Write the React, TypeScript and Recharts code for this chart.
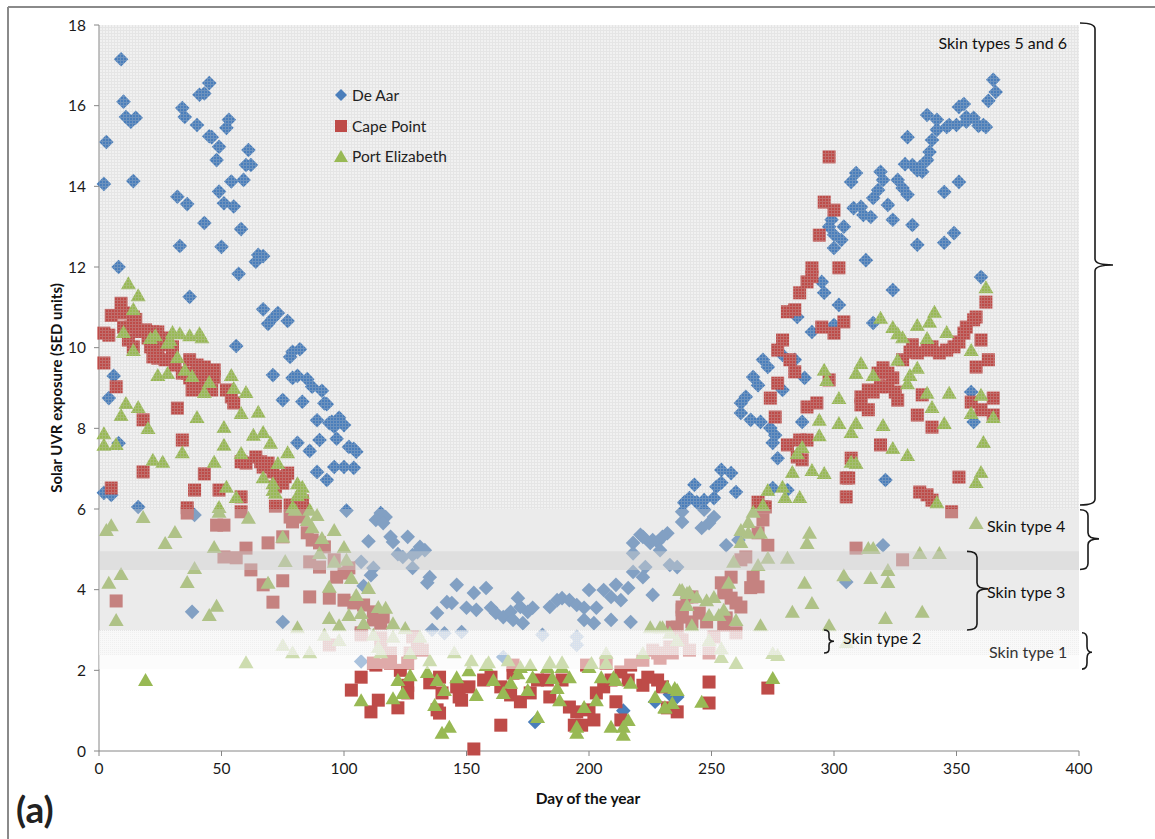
import React from 'react';
import {
    ScatterChart, Scatter, XAxis, YAxis, ReferenceArea, Legend
} from 'recharts';

// [day of year, SED]
const DE_AAR: [number, number][] = [
    [2, 14.06], [3, 15.1], [9, 17.15], [10, 16.1], [11, 15.72], [13, 15.6], [15, 15.7], [14, 14.13], [8, 12.0],
    [32, 13.74], [34, 15.94], [35, 15.72], [36, 13.56], [33, 12.52], [37, 11.26], [40, 15.52], [41, 16.27], [43, 16.3],
    [45, 16.56], [45, 15.24], [46, 15.22], [49, 14.98], [48, 14.65], [43, 13.09], [49, 13.87], [51, 13.58], [55, 13.5],
    [50, 12.5], [53, 15.65], [52, 15.45], [54, 14.12], [59, 14.16], [60, 14.53], [62, 14.53], [61, 14.9], [58, 12.94],
    [57, 11.83], [64, 12.13], [65, 12.3], [67, 12.27],
    [2, 6.4], [6, 9.3], [4, 8.75], [8, 7.63], [5, 6.35], [16, 6.05], [56, 10.04], [39, 5.85], [38, 3.45], [75, 3.2],
    [67, 10.95], [73, 10.86], [71, 10.73], [69, 10.59], [77, 10.66], [78, 9.77], [82, 9.96], [79, 9.9], [71, 9.32],
    [79, 9.25], [81, 9.3], [85, 9.22], [87, 9.03], [91, 8.93], [75, 8.7], [83, 8.66], [93, 8.6], [89, 8.2], [94, 8.13],
    [96, 8.04], [98, 8.26], [100, 8.08], [81, 7.64], [86, 7.44], [90, 7.71], [97, 7.74], [102, 7.54], [104, 7.49],
    [105, 7.42], [96, 7.04], [100, 7.04], [104, 7.02], [89, 6.92], [93, 6.72], [92, 8.62], [95, 8.16],
    [101, 5.96], [115, 5.9], [117, 5.8], [113, 5.73], [116, 5.65], [110, 5.2], [119, 5.31], [126, 5.31], [120, 5.18],
    [131, 5.06], [122, 4.88], [124, 4.81], [128, 4.86], [130, 4.93], [133, 4.98], [107, 4.69], [112, 4.54], [111, 4.36],
    [108, 4.09], [128, 4.54], [135, 4.31], [134, 4.17], [146, 4.12], [153, 3.92], [158, 4.04], [142, 3.69], [144, 3.67],
    [138, 3.42], [150, 3.55], [154, 3.5], [160, 3.55], [162, 3.42], [165, 3.32], [168, 3.45], [171, 3.79], [172, 3.57],
    [175, 3.45], [169, 3.25], [173, 3.17], [177, 3.55], [184, 3.57], [187, 3.74], [189, 3.79], [192, 3.74], [195, 3.62],
    [198, 3.55], [200, 3.99], [203, 3.55], [206, 3.99], [209, 3.82], [211, 4.12], [213, 3.74], [216, 4.04], [198, 3.25],
    [202, 3.17], [209, 3.25], [217, 3.2], [226, 3.87], [136, 3.0], [141, 2.92], [148, 2.95], [181, 2.88], [195, 2.83],
    [195, 2.63], [107, 2.22], [165, 2.33], [178, 0.72], [214, 1.0], [227, 1.22], [236, 1.34], [233, 1.4],
    [218, 5.16], [221, 5.36], [225, 5.16], [228, 5.18], [232, 5.4], [229, 4.98], [218, 4.9], [223, 4.56], [218, 4.44],
    [222, 4.31], [233, 4.61], [236, 4.56], [238, 5.68], [239, 6.15],
    [254, 6.97], [258, 6.89], [260, 6.42], [243, 6.6], [254, 6.65], [252, 6.55], [241, 6.27], [239, 6.17], [244, 6.17],
    [247, 6.22], [251, 6.27], [247, 5.98], [238, 5.93], [251, 5.8], [249, 5.65], [246, 5.53], [230, 5.31], [226, 5.23],
    [256, 5.1], [261, 5.23], [222, 5.31],
    [277, 7.26], [275, 6.52], [281, 6.47], [275, 7.64], [321, 6.72], [320, 5.1], [305, 4.19],
    [330, 15.22], [340, 15.15], [342, 15.4], [346, 15.47], [350, 15.52], [354, 15.6], [361, 15.52], [339, 14.85],
    [332, 14.53], [335, 14.48], [338, 14.65], [336, 14.36], [309, 14.33], [307, 14.11], [319, 14.36], [320, 14.16],
    [326, 14.16], [328, 13.96], [330, 13.79], [318, 13.91], [316, 13.71], [345, 13.86], [351, 14.11], [308, 13.46],
    [311, 13.49], [312, 13.29], [315, 13.24], [322, 13.54], [324, 13.17], [299, 13.17], [298, 13.0], [304, 13.0],
    [300, 12.8], [300, 12.47], [303, 12.67], [332, 13.04], [334, 12.55], [349, 12.84], [345, 12.6], [313, 12.17],
    [360, 11.75], [324, 11.43], [295, 11.63], [296, 11.36], [302, 11.06], [285, 10.76], [316, 10.61], [291, 10.39],
    [300, 10.56], [271, 9.7], [273, 9.52], [279, 9.82], [284, 9.7], [288, 9.25], [267, 9.27], [269, 9.07], [264, 8.78],
    [262, 8.63], [262, 8.38], [266, 8.21], [270, 8.16], [274, 8.01], [276, 7.83], [279, 8.95], [287, 8.16], [356, 8.9],
    [357, 8.16],
    [365, 16.64], [366, 16.34], [363, 16.12], [351, 15.97], [353, 16.04], [338, 15.77], [342, 15.65], [347, 15.52],
    [354, 15.72], [357, 15.7], [359, 15.5], [362, 15.47], [329, 14.55], [334, 14.4],
];

const CAPE_POINT: [number, number][] = [
    [9, 11.1], [5, 10.8], [10, 10.86], [14, 10.76], [15, 10.7], [2, 10.36], [4, 10.31], [10, 10.51], [13, 10.51],
    [12, 10.19], [14, 10.02], [16, 10.4], [19, 10.44], [20, 10.24], [22, 10.39], [24, 10.39], [26, 10.24], [21, 10.02],
    [24, 9.94], [28, 10.07], [30, 10.02], [22, 9.77], [24, 9.74], [27, 9.7], [30, 9.89], [2, 9.62], [31, 9.57],
    [34, 9.37], [37, 9.7], [40, 9.57], [43, 9.52], [47, 9.45], [36, 9.37], [42, 9.32], [47, 9.27], [37, 9.25],
    [40, 9.12], [38, 8.95], [43, 9.0], [46, 8.95], [7, 9.03], [52, 8.95], [54, 8.78], [55, 8.63], [18, 8.21],
    [32, 8.5], [34, 7.71], [18, 6.92], [5, 6.52], [43, 6.87], [58, 7.17], [60, 7.14], [64, 7.29], [66, 7.17],
    [69, 7.14], [67, 7.04], [71, 6.92], [77, 6.89], [75, 6.64], [73, 6.75], [72, 6.55], [76, 6.8], [39, 6.47],
    [49, 6.47], [58, 6.3], [36, 6.03], [72, 6.07], [83, 6.05],
    [36, 5.9], [48, 5.6], [51, 5.6], [58, 5.93], [69, 5.16], [60, 5.03], [51, 4.81], [56, 4.79], [62, 4.49],
    [7, 3.72], [67, 4.12], [75, 4.22], [71, 3.69], [86, 3.82], [78, 6.1], [82, 6.1], [75, 5.31], [78, 5.8],
    [79, 5.68], [82, 5.8], [85, 5.41], [87, 5.23], [90, 5.16], [92, 5.06], [86, 4.69], [90, 4.56], [96, 4.74],
    [97, 4.31], [100, 4.41], [102, 4.54], [94, 3.79], [100, 3.74], [104, 3.67], [108, 3.62], [112, 3.45], [116, 3.32],
    [107, 2.93], [94, 2.63], [115, 2.68], [113, 2.13], [118, 2.2], [107, 1.83], [103, 1.51], [114, 1.26], [111, 0.97],
    [83, 6.2], [112, 3.25], [115, 3.17], [107, 2.88], [115, 2.8], [128, 2.83], [130, 2.68], [132, 2.5], [127, 2.43],
    [119, 2.43], [112, 2.18], [119, 2.18], [126, 2.18], [123, 2.0], [122, 1.07], [126, 1.63], [126, 1.44],
    [138, 1.02], [139, 0.94], [148, 1.26], [147, 1.34], [140, 1.44], [135, 1.69], [139, 1.83], [146, 1.59],
    [151, 1.59], [164, 0.64], [153, 0.05], [157, 1.76], [160, 1.83], [164, 1.59], [169, 1.93], [168, 1.39],
    [172, 1.22], [176, 1.44], [179, 1.76], [183, 1.76], [184, 1.34], [189, 1.76], [192, 1.09], [195, 0.97],
    [194, 0.64], [197, 0.64], [200, 1.02], [202, 0.77], [203, 1.44], [206, 1.59], [209, 1.76], [211, 1.22],
    [213, 0.77], [216, 1.76], [222, 1.63], [228, 1.76], [230, 1.59], [236, 0.97], [224, 1.83], [213, 1.96],
    [217, 2.13], [222, 2.25], [228, 2.43], [233, 2.58], [237, 2.75], [236, 3.07], [238, 3.32], [238, 3.57],
    [240, 3.82], [199, 2.13], [207, 2.18], [169, 2.13],
    [232, 1.07], [249, 1.71], [249, 1.19], [273, 1.56], [238, 3.5], [242, 3.2], [245, 3.42], [248, 3.2], [254, 4.17],
    [255, 3.92], [258, 4.31], [256, 4.07], [260, 3.67], [262, 3.57], [258, 3.79], [267, 4.31], [269, 4.07],
    [266, 4.05], [256, 3.3], [255, 3.12], [242, 3.82], [234, 3.07], [264, 4.81], [262, 4.74], [269, 5.41], [271, 5.73],
    [273, 5.1], [272, 6.05], [249, 2.43], [241, 2.5], [229, 2.3], [251, 2.83], [260, 2.93], [309, 5.03], [328, 4.74],
    [305, 6.77], [305, 6.3], [307, 7.26], [285, 7.29], [287, 7.22], [281, 7.59], [319, 7.59], [351, 6.79], [335, 6.42],
    [338, 6.35], [340, 6.22], [348, 5.93], [238, 2.75], [226, 2.5], [234, 2.43], [269, 6.17],
    [298, 14.73], [296, 13.61], [300, 13.41], [294, 12.79], [291, 11.98], [291, 11.76], [289, 11.63], [302, 11.98],
    [286, 11.36], [281, 10.89], [284, 10.94], [295, 10.51], [300, 10.36], [304, 10.64], [279, 10.19], [277, 9.94],
    [282, 9.7], [284, 9.4], [277, 9.12], [274, 8.75], [276, 8.28], [289, 8.53], [293, 8.63], [298, 9.2], [286, 7.71],
    [289, 7.71], [306, 6.77], [271, 6.05],
    [311, 8.78], [314, 8.95], [316, 8.9], [319, 9.03], [314, 8.46], [311, 8.58], [322, 9.03], [318, 9.37], [320, 9.5],
    [322, 9.37], [324, 9.25], [325, 8.9], [326, 8.7], [334, 8.33], [340, 8.03], [336, 8.83], [328, 9.7], [331, 9.89],
    [334, 9.87], [338, 9.94], [340, 10.02], [343, 9.87], [346, 9.94], [349, 10.02], [351, 10.14], [353, 10.36],
    [354, 10.51], [357, 10.69], [358, 10.76], [360, 10.19], [362, 11.13], [363, 9.7], [358, 9.52], [365, 8.75],
    [360, 8.46], [365, 8.33], [356, 8.65], [332, 10.07],
];

const PORT_ELIZABETH: [number, number][] = [
    [12, 11.6], [16, 11.3], [14, 10.96], [10, 10.39], [14, 9.94], [21, 10.24], [23, 10.31], [30, 10.39], [33, 10.36],
    [37, 10.31], [41, 10.36], [42, 10.26], [29, 10.19], [28, 10.12], [32, 9.77], [24, 9.32], [28, 9.37], [35, 9.45],
    [38, 9.3], [54, 9.32], [45, 9.15], [43, 8.9], [55, 9.0], [60, 8.9], [11, 8.63], [16, 8.53], [9, 8.33], [20, 8.01],
    [58, 8.38], [65, 8.41], [40, 8.28], [51, 8.03], [2, 7.88], [2, 7.59], [7, 7.61], [63, 7.84], [67, 7.91], [70, 7.64],
    [77, 7.41], [22, 7.22], [26, 7.17], [51, 7.59], [47, 7.17], [34, 7.41], [58, 7.39], [73, 7.14], [67, 6.79],
    [71, 6.64], [81, 6.64], [83, 6.55], [81, 6.35], [52, 6.55], [56, 6.3], [72, 6.4], [49, 6.05], [79, 6.05],
    [71, 6.47], [83, 6.4], [18, 5.8], [5, 5.6], [3, 5.48], [31, 5.43], [27, 5.16], [49, 5.93], [61, 5.78], [80, 5.98],
    [47, 5.06], [39, 4.54], [36, 4.19], [9, 4.39], [4, 4.17], [7, 3.25], [45, 3.37], [48, 3.6], [69, 4.17], [76, 4.71],
    [75, 5.31], [81, 3.07], [86, 5.98], [89, 5.85], [85, 5.73], [87, 5.55], [91, 5.28], [90, 4.91], [96, 5.48],
    [100, 5.06], [96, 4.69], [101, 4.74], [103, 4.29], [94, 4.07], [105, 3.87], [110, 4.04], [114, 3.57], [117, 3.55],
    [94, 3.3], [98, 3.12], [102, 3.37], [107, 3.42], [108, 3.17], [92, 2.88], [98, 2.75], [75, 2.63], [79, 2.45],
    [86, 2.45], [60, 2.2], [112, 2.88], [114, 2.58], [115, 2.45], [19, 1.76], [107, 1.26],
    [120, 3.17], [120, 2.83], [125, 3.05], [131, 2.83], [135, 2.25], [127, 2.43], [145, 2.45], [152, 2.25],
    [158, 2.13], [151, 2.0], [146, 1.83], [141, 1.51], [138, 1.76], [134, 1.96], [127, 1.88], [122, 1.76], [124, 1.44],
    [120, 1.31], [137, 1.14], [140, 0.45], [143, 0.6], [154, 1.39], [161, 1.76], [165, 1.44], [168, 1.69], [171, 1.93],
    [172, 2.08], [175, 1.51], [177, 1.83], [179, 0.84], [183, 2.08], [185, 1.81], [187, 1.56], [188, 1.26], [189, 2.08],
    [192, 1.83], [195, 0.45], [195, 0.6], [198, 1.09], [200, 2.08], [203, 1.26], [205, 1.83], [207, 2.18], [210, 1.83],
    [211, 1.76], [209, 0.6], [214, 0.6], [214, 0.4], [216, 0.77], [217, 1.69], [225, 3.07], [230, 3.07], [233, 2.93],
    [236, 2.75], [232, 1.59], [236, 1.51], [231, 1.09], [234, 1.19], [222, 2.43], [237, 3.99], [240, 3.92],
    [167, 2.25], [176, 2.13], [184, 2.2], [189, 2.2], [201, 2.18], [207, 2.43], [159, 2.2],
    [287, 7.54], [285, 7.39], [283, 6.92], [291, 6.97], [296, 6.89], [286, 6.3], [279, 6.55], [280, 6.3], [273, 6.47],
    [271, 6.1], [267, 5.93], [265, 5.68], [262, 5.48], [265, 5.41], [270, 5.41], [262, 5.18], [259, 4.69], [269, 4.61],
    [273, 4.79], [281, 4.79], [290, 5.41], [289, 5.16], [307, 7.17], [309, 7.14], [324, 7.51], [330, 7.34], [342, 6.17],
    [314, 5.03], [316, 5.03], [335, 4.91], [343, 4.91], [304, 4.36], [315, 4.29], [322, 4.49], [322, 4.19], [288, 4.17],
    [291, 3.67], [283, 3.45], [298, 3.12], [321, 3.3], [336, 3.45], [270, 3.12], [260, 2.18], [275, 2.43], [277, 2.38],
    [275, 1.81], [305, 2.7], [246, 1.22], [235, 1.56], [227, 1.34], [231, 1.07], [238, 3.99], [241, 3.94], [244, 3.82],
    [240, 3.62], [248, 3.74], [251, 3.82], [255, 3.5], [249, 3.37], [253, 3.37], [242, 3.12], [260, 3.25], [257, 4.17],
    [229, 3.07], [249, 2.75], [254, 2.55], [254, 2.33],
    [362, 11.5], [341, 10.89], [339, 10.64], [334, 10.56], [346, 10.39], [319, 10.74], [324, 10.51], [326, 10.36],
    [328, 10.26], [338, 10.24], [356, 9.94], [326, 9.7], [311, 9.62], [309, 9.37], [316, 9.32], [331, 9.32], [334, 9.5],
    [330, 9.12], [296, 9.45], [297, 9.2], [338, 8.88], [347, 8.88], [340, 8.53], [360, 8.83], [365, 8.28], [356, 8.38],
    [302, 8.75], [309, 8.13], [302, 8.13], [307, 7.91], [320, 8.08], [345, 8.13], [294, 7.83], [294, 8.21], [361, 7.66],
    [360, 6.92], [358, 6.67], [358, 5.65],
];

const X_TICKS = [0, 50, 100, 150, 200, 250, 300, 350, 400];
const Y_TICKS = [0, 2, 4, 6, 8, 10, 12, 14, 16, 18];

// skin type bands [from, to]
const SKIN_BANDS = {
    t56: [6, 18],
    t4: [4.49, 6],
    t3: [3, 4.95],
    t2: [2.38, 3],
    t1: [2.03, 2.97],
};

const BLUE = '#4A7EBB';
const RED = '#BE4B48';
const GREEN = '#98B954';
const FONT = 'Lato, "Open Sans", sans-serif';

const toPoints = (arr: [number, number][]) => arr.map(([day, sed]) => ({ day, sed }));

const Diamond = (p: any) => {
    const { cx, cy } = p;
    const r = 7.3;
    return <polygon points={`${cx},${cy - r} ${cx + r},${cy} ${cx},${cy + r} ${cx - r},${cy}`} fill={BLUE} />;
};
const Square = (p: any) => {
    const { cx, cy } = p;
    return <rect x={cx - 6.5} y={cy - 6.5} width={13} height={13} fill={RED} />;
};
const Triangle = (p: any) => {
    const { cx, cy } = p;
    return <polygon points={`${cx},${cy - 7} ${cx + 7.5},${cy + 6} ${cx - 7.5},${cy + 6}`} fill={GREEN} />;
};

const LEGEND_ITEMS = [
    { name: 'De Aar', color: BLUE, kind: 'diamond' },
    { name: 'Cape Point', color: RED, kind: 'square' },
    { name: 'Port Elizabeth', color: GREEN, kind: 'triangle' },
];

const LegendBox = () => (
    <div style={{ fontFamily: FONT, fontSize: 15.5, color: '#222' }}>
        {LEGEND_ITEMS.map((it) => (
            <div key={it.name} style={{ display: 'flex', alignItems: 'center', height: 30.5 }}>
                <svg width={16} height={16} style={{ marginRight: 3 }}>
                    {it.kind === 'diamond' && <polygon points="8,2 14,8 8,14 2,8" fill={it.color} />}
                    {it.kind === 'square' && <rect x={2} y={2} width={12} height={12} fill={it.color} />}
                    {it.kind === 'triangle' && <polygon points="8,2 15,14 1,14" fill={it.color} />}
                </svg>
                <span>{it.name}</span>
            </div>
        ))}
    </div>
);

// plot box, used only for placing the annotation braces
const PLOT = { left: 99, top: 25, width: 980, height: 726 };
const yPx = (v: number) => PLOT.top + ((18 - v) / 18) * PLOT.height;

const brace = (x: number, y1: number, y2: number, ym: number, w: number, xt: number) => {
    const r = Math.min(6, (y2 - y1) / 6);
    return `M${x - w},${y1} Q${x},${y1} ${x},${y1 + r} L${x},${ym - r} Q${x},${ym} ${xt},${ym} ` +
        `Q${x},${ym} ${x},${ym + r} L${x},${y2 - r} Q${x},${y2} ${x - w},${y2}`;
};

const Annotations = () => (
    <svg width={1155} height={839} style={{ position: 'absolute', left: 0, top: 0, pointerEvents: 'none' }}>
        {/* frame */}
        <line x1={8} y1={7} x2={1155} y2={7} stroke="#8a8a8a" strokeWidth={2} />
        <line x1={8} y1={7} x2={8} y2={839} stroke="#8a8a8a" strokeWidth={2} />

        <g fill="none" stroke="#1a1a1a" strokeWidth={1.6}>
            <path d={brace(1095, yPx(18) - 2, yPx(6.1), yPx(12.05), 15, 1113)} />
            <path d={brace(1088, yPx(5.98), yPx(4.5), yPx(5.26), 8, 1099)} />
            <path d={brace(977, yPx(4.95), yPx(3.0), yPx(4.02), 10, 988)} />
            <path d={brace(829, yPx(3.0), yPx(2.43), yPx(2.72), 5, 834)} />
            <path d={brace(1087, yPx(2.93), yPx(2.03), yPx(2.45), 5, 1092)} />
        </g>

        <g fontFamily={FONT} fontSize={16} fill="#111">
            <text x={1067} y={49} textAnchor="end">Skin types 5 and 6</text>
            <text x={987} y={532}>Skin type 4</text>
            <text x={987} y={598}>Skin type 3</text>
            <text x={843} y={644}>Skin type 2</text>
            <text x={989} y={658} fill="#333">Skin type 1</text>
        </g>

        <text x={0} y={0} transform="translate(62,388) rotate(-90)" textAnchor="middle"
            fontFamily={FONT} fontWeight="bold" fontSize={15} fill="#111">Solar UVR exposure (SED units)</text>
        <text x={588} y={804} textAnchor="middle" fontFamily={FONT} fontWeight="bold" fontSize={15.5} fill="#111">Day of the year</text>
        <text x={16} y={823} fontFamily={FONT} fontWeight="bold" fontSize={37} fill="#222">(a)</text>
    </svg>
);

export default function App() {
    const deAar = toPoints(DE_AAR);
    const cape = toPoints(CAPE_POINT);
    const pe = toPoints(PORT_ELIZABETH);
    const axisTick = { fill: '#1a1a1a', fontSize: 15.5, fontFamily: FONT };
    const bandProps = { x1: 0, x2: 400, stroke: 'none', zIndex: 1000, ifOverflow: 'visible' as const };

    return (
        <div style={{ position: 'absolute', left: 0, top: 0, width: 1155, height: 839, background: '#fff' }}>
            <ScatterChart width={1155} height={839} margin={{ top: 25, right: 76, left: 59, bottom: 58 }}>
                <defs>
                    <pattern id="meshDots" width={3} height={3} patternUnits="userSpaceOnUse">
                        <rect x={0} y={0} width={3} height={1} fill="#c4c4c4" fillOpacity={0.28} />
                        <rect x={0} y={1} width={1} height={2} fill="#c4c4c4" fillOpacity={0.28} />
                    </pattern>
                    <pattern id="meshFine" width={2} height={2} patternUnits="userSpaceOnUse">
                        <rect x={0} y={0} width={2} height={2} fill="#f4f4f4" fillOpacity={0.6} />
                        <rect x={0} y={0} width={1} height={1} fill="#d8d8d8" fillOpacity={0.6} />
                    </pattern>
                </defs>
                {/* light base under the skin types 5 and 6 region */}
                <ReferenceArea x1={0} x2={400} y1={SKIN_BANDS.t56[0]} y2={SKIN_BANDS.t56[1]} fill="#f1f1f1" fillOpacity={1} stroke="none" />
                <XAxis
                    type="number"
                    dataKey="day"
                    domain={[0, 400]}
                    ticks={X_TICKS}
                    height={30}
                    tickSize={5}
                    tickMargin={7}
                    stroke="#868686"
                    tick={axisTick}
                />
                <YAxis
                    type="number"
                    dataKey="sed"
                    domain={[0, 18]}
                    ticks={Y_TICKS}
                    width={40}
                    tickSize={5}
                    tickMargin={8}
                    stroke="#868686"
                    tick={axisTick}
                />
                <Scatter name="De Aar" data={deAar} shape={Diamond} isAnimationActive={false} />
                <Scatter name="Cape Point" data={cape} shape={Square} isAnimationActive={false} />
                <Scatter name="Port Elizabeth" data={pe} shape={Triangle} isAnimationActive={false} />

                <ReferenceArea {...bandProps} y1={SKIN_BANDS.t56[0]} y2={SKIN_BANDS.t56[1]} fill="url(#meshDots)" fillOpacity={1} />
                <ReferenceArea {...bandProps} y1={SKIN_BANDS.t4[0]} y2={SKIN_BANDS.t4[1]} fill="#cfcfcf" fillOpacity={0.42} />
                <ReferenceArea {...bandProps} y1={SKIN_BANDS.t3[0]} y2={SKIN_BANDS.t3[1]} fill="#cfcfcf" fillOpacity={0.42} />
                <ReferenceArea {...bandProps} y1={SKIN_BANDS.t2[0]} y2={SKIN_BANDS.t2[1]} fill="url(#meshFine)" fillOpacity={1} />
                <ReferenceArea {...bandProps} y1={SKIN_BANDS.t1[0]} y2={SKIN_BANDS.t1[1]} fill="#f9f9f9" fillOpacity={0.55} />

                <Legend
                    layout="vertical"
                    align="center"
                    verticalAlign="middle"
                    content={<LegendBox />}
                    wrapperStyle={{ left: 333, top: 80, width: 170 }}
                />
            </ScatterChart>
            <Annotations />
        </div>
    );
}
